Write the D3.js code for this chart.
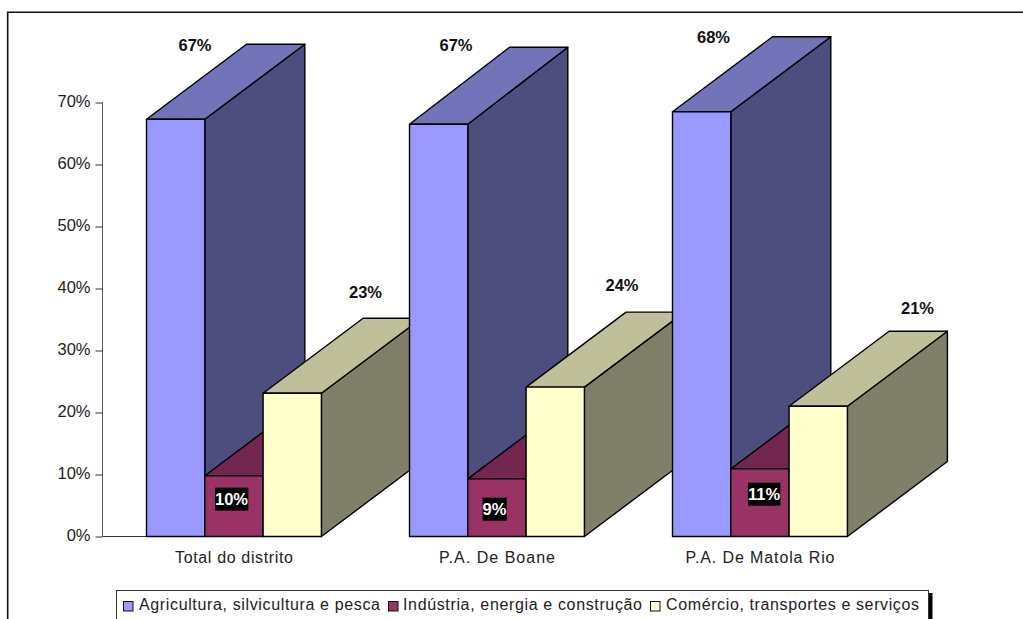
<!DOCTYPE html>
<html><head><meta charset="utf-8">
<script src="https://d3js.org/d3.v7.min.js"></script>
<style>html,body{margin:0;padding:0;background:#fff;overflow:hidden}svg{display:block;font-family:"Liberation Sans",Arial,sans-serif}</style>
</head><body><svg id="c" width="1023" height="619"></svg>
<script>
const categories=["Total do distrito","P.A. De Boane","P.A. De Matola Rio"];
const seriesNames=["Agricultura, silvicultura e pesca","Indústria, energia e construção","Comércio, transportes e serviços"];
const agricultura=[67.3,66.5,68.5];
const industria=[9.8,9.3,10.9];
const comercio=[23.1,24.1,21.0];
const agriculturaLabels=["67%","67%","68%"];
const industriaLabels=["10%","9%","11%"];
const comercioLabels=["23%","24%","21%"];
const yTicks=[0,10,20,30,40,50,60,70];

const frontColors=["#9999ff","#993366","#ffffcc"];
const topColors=["#7373b9","#732650","#bfbf99"];
const sideColors=["#4d4d7e","#732650","#80806a"];
const seriesValues=[agricultura,industria,comercio];

// hand-placed data labels in the reference: offsets from the default spots
const agriLabelShift=[[48.5,1],[46.5,-2.7],[41,0.5]];
const comLabelShift=[[219,-26.5],[212.5,-27],[245,-23]];
const indLabelShift=[[85,-7],[85,1.5],[91.5,-8.5]];
const categoryWidths=[118,116,149];
const legendWidths=[241,239,253];
const legendTextGap=[16,15,16];
const agriExtraDepth=[0,2,0];

const svg=d3.select("#c");
const y=d3.scaleLinear().domain([0,70]).range([536.5,102.5]);
const x=d3.scaleBand().domain(categories).range([146.5,935.5]);
const barW=58.3, dx=100, dy=-75;
const ink="#000";

svg.append("path").attr("d","M7.7,619V12.3H1023").attr("fill","none").attr("stroke","#111").attr("stroke-width",1.6);

const axis=d3.axisLeft(y).tickValues(yTicks).tickFormat(d=>d+"%").tickSize(7).tickPadding(5);
const ag=svg.append("g").attr("transform","translate(102.5,0)").call(axis);
ag.attr("font-size",null).attr("font-family",null);
ag.select(".domain").attr("stroke","#555").attr("d","M0,102.5V536.5");
ag.selectAll(".tick line").attr("stroke","#333");
ag.selectAll(".tick text").attr("font-size",16.5).attr("dy","0.25em").attr("fill","#222");
svg.append("line").attr("x1",102.5).attr("x2",146.5).attr("y1",536.5).attr("y2",536.5).attr("stroke","#333");

const poly=(pts,fill)=>svg.append("polygon").attr("points",pts.map(p=>p.join(",")).join(" ")).attr("fill",fill).attr("stroke",ink).attr("stroke-width",1.4).attr("stroke-linejoin","round");
categories.forEach((c,gi)=>{
  const x0=x(c);
  seriesValues.forEach((vals,si)=>{
    const l=x0+si*barW, r=l+barW, t=y(vals[gi]), b=y(0);
    const back=t+dy-(si===0?agriExtraDepth[gi]:0);
    poly([[r,b],[r+dx,b+dy],[r+dx,back],[r,t]],sideColors[si]);
    poly([[l,t],[l+dx,back],[r+dx,back],[r,t]],topColors[si]);
    poly([[l,b],[r,b],[r,t],[l,t]],frontColors[si]);
  });
});

const label=(lx,ly,txt,fill)=>svg.append("text").attr("x",lx).attr("y",ly).attr("text-anchor","middle").attr("dominant-baseline","central")
  .attr("font-size",16.5).attr("font-weight","bold").attr("fill",fill).text(txt);
categories.forEach((c,gi)=>{
  const x0=x(c);
  label(x0+agriLabelShift[gi][0],y(agricultura[gi])+dy+agriLabelShift[gi][1]-agriExtraDepth[gi],agriculturaLabels[gi],"#111");
  label(x0+comLabelShift[gi][0],y(comercio[gi])+dy+comLabelShift[gi][1],comercioLabels[gi],"#111");
  const lx=x0+indLabelShift[gi][0], ly=(y(industria[gi])+y(0))/2+indLabelShift[gi][1];
  const t=label(lx,ly,industriaLabels[gi],"#fff");
  const bb=t.node().getBBox();
  svg.append("rect").attr("x",bb.x).attr("y",ly-11.5).attr("width",bb.width).attr("height",23).attr("fill","#000");
  t.raise();
  svg.append("text").attr("x",x0+87.5).attr("y",557).attr("text-anchor","middle").attr("dominant-baseline","central")
    .attr("font-size",16).attr("textLength",categoryWidths[gi]).attr("lengthAdjust","spacing").attr("fill","#222").text(c);
});

svg.append("rect").attr("x",929).attr("y",593).attr("width",3.5).attr("height",26).attr("fill","#000");
svg.append("rect").attr("x",116.5).attr("y",590.5).attr("width",812).attr("height",40).attr("fill","#fff").attr("stroke","#333");
const legendX=[123,388,650];
seriesNames.forEach((n,i)=>{
  svg.append("rect").attr("x",legendX[i]+.5).attr("y",601.5).attr("width",9.5).attr("height",9.5).attr("fill",frontColors[i]).attr("stroke","#111");
  svg.append("text").attr("x",legendX[i]+legendTextGap[i]).attr("y",604).attr("dominant-baseline","central").attr("font-size",16).attr("textLength",legendWidths[i]).attr("lengthAdjust","spacing").attr("fill","#222").text(n);
});
</script></body></html>
